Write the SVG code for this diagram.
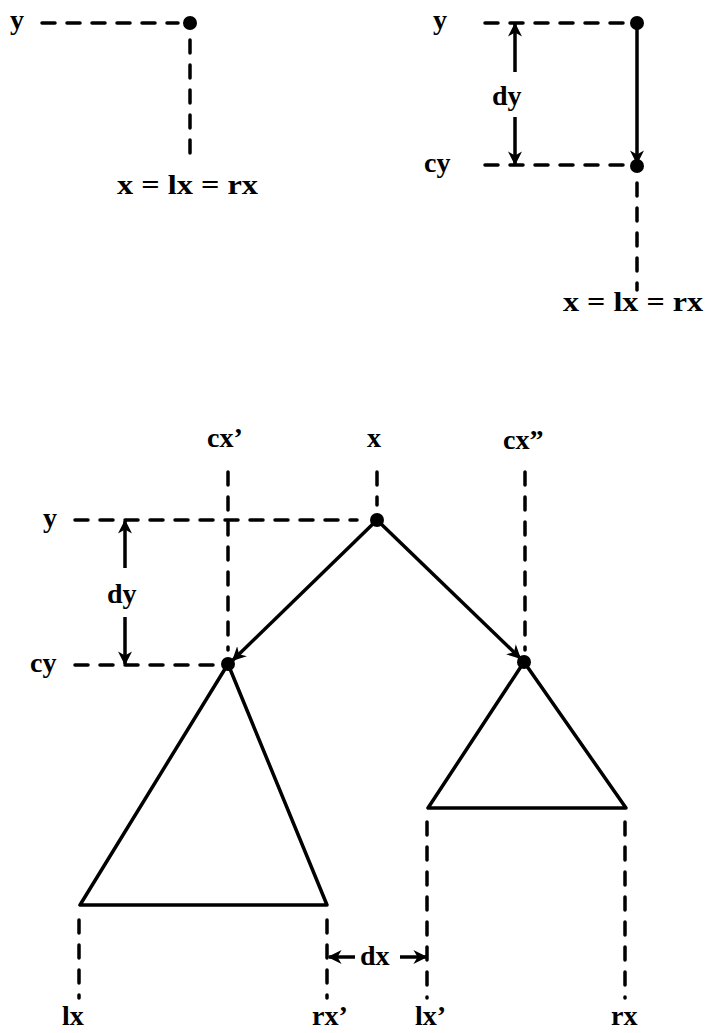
<svg xmlns="http://www.w3.org/2000/svg" width="708" height="1033" viewBox="0 0 708 1033">
<style>
text{font-family:"Liberation Serif","Times New Roman",serif;font-weight:bold;font-size:28px;fill:#000}
.d{stroke:#000;stroke-width:3.5;fill:none;stroke-dasharray:13 12;stroke-linecap:round}
.s{stroke:#000;stroke-width:3.5;fill:none;stroke-linejoin:round}
.a{stroke:#000;stroke-width:3.5;fill:none;marker-end:url(#ah)}
.dot{fill:#000}
</style>
<defs>
<marker id="ah" viewBox="0 0 10 10" refX="9" refY="5" markerWidth="4" markerHeight="4" orient="auto" markerUnits="strokeWidth">
<path d="M0,0 L10,5 L0,10 L3,5 Z" fill="#000"/>
</marker>
</defs>

<g id="top-left">
<text x="10" y="29">y</text>
<line class="d" x1="42" y1="23" x2="178" y2="23"/>
<line class="d" x1="190" y1="40" x2="190" y2="165"/>
<circle class="dot" cx="190" cy="23" r="7"/>
<text x="117" y="194" textLength="141" lengthAdjust="spacingAndGlyphs">x = lx = rx</text>
</g>

<g id="top-right">
<text x="433" y="29">y</text>
<text x="424" y="172">cy</text>
<line class="d" x1="485" y1="23" x2="628" y2="23"/>
<line class="d" x1="485" y1="165" x2="628" y2="165"/>
<line class="d" x1="637" y1="183" x2="637" y2="290"/>
<circle class="dot" cx="637" cy="23" r="7"/>
<circle class="dot" cx="637" cy="166" r="7"/>
<text x="563" y="311" textLength="140" lengthAdjust="spacingAndGlyphs">x = lx = rx</text>
</g>

<g id="root">
<circle class="dot" cx="377" cy="520" r="7"/>
<text x="367" y="447">x</text>
<line class="d" x1="377" y1="472" x2="377" y2="505"/>
</g>

<g id="left-subtree">
<circle class="dot" cx="228" cy="664" r="7"/>
<polygon class="s" points="228,664 80,905 327,905"/>
<text x="207" y="447">cx’</text>
</g>

<g id="right-subtree">
<circle class="dot" cx="524" cy="662" r="7"/>
<polygon class="s" points="524,662 428,808 626,808"/>
<text x="503" y="449">cx”</text>
</g>

<g id="guides">
<text x="43" y="527">y</text>
<text x="30" y="672">cy</text>
<line class="d" x1="75" y1="520" x2="357" y2="520"/>
<line class="d" x1="75" y1="665" x2="218" y2="665"/>
<line class="d" x1="228" y1="472" x2="228" y2="650"/>
<line class="d" x1="525" y1="472" x2="525" y2="650"/>
<line class="d" x1="79" y1="920" x2="79" y2="998"/>
<line class="d" x1="327" y1="920" x2="327" y2="998"/>
<line class="d" x1="427" y1="822" x2="427" y2="998"/>
<line class="d" x1="625" y1="822" x2="625" y2="998"/>
<text x="62" y="1025">lx</text>
<text x="312" y="1025">rx’</text>
<text x="415" y="1025">lx’</text>
<text x="611" y="1025">rx</text>
</g>

<g id="connectors">
<line class="a" x1="637" y1="28" x2="637" y2="163"/>
<line class="a" x1="377" y1="520" x2="233" y2="660"/>
<line class="a" x1="377" y1="520" x2="520" y2="658"/>
<line class="a" x1="515" y1="72" x2="515" y2="24"/>
<line class="a" x1="515" y1="117" x2="515" y2="164"/>
<text x="492" y="105">dy</text>
<line class="a" x1="125" y1="568" x2="125" y2="521"/>
<line class="a" x1="125" y1="617" x2="125" y2="664"/>
<text x="107" y="603">dy</text>
<line class="a" x1="355" y1="957" x2="329" y2="957"/>
<line class="a" x1="400" y1="957" x2="426" y2="957"/>
<text x="360" y="965">dx</text>
</g>
</svg>
